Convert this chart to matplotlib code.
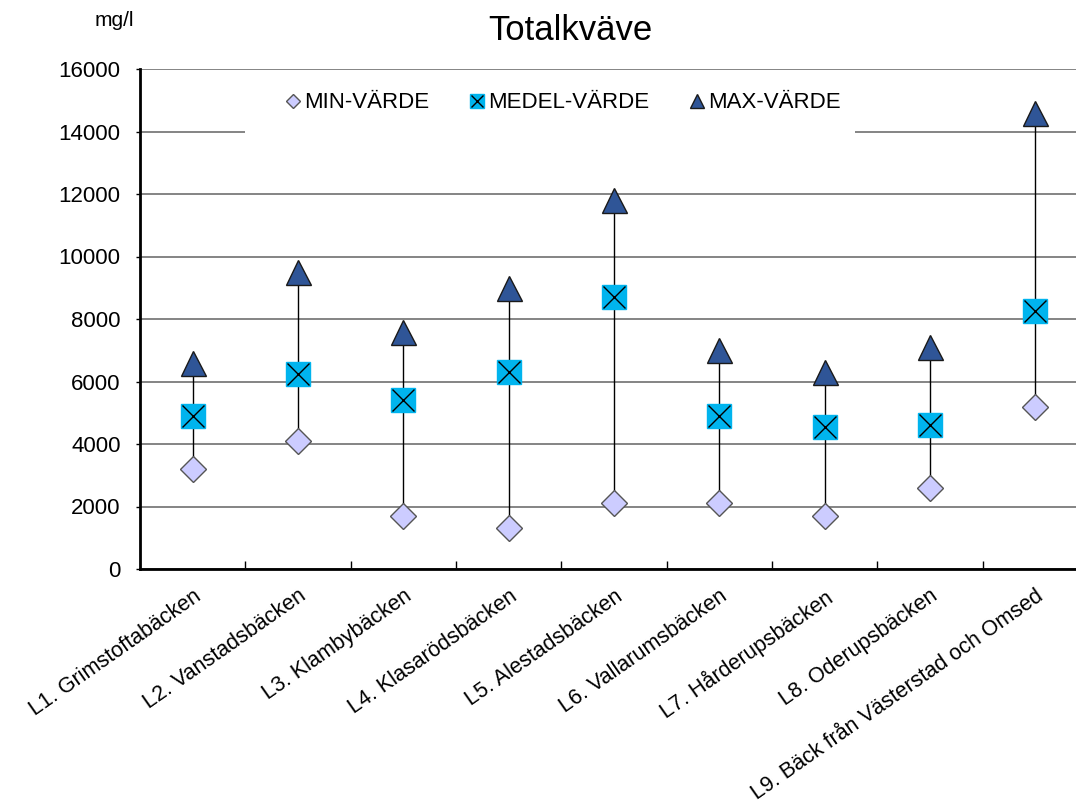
import matplotlib.pyplot as plt
from matplotlib.ticker import FixedLocator
from matplotlib.patches import Rectangle

plt.rcParams['font.family'] = ['Liberation Sans', 'DejaVu Sans']

stations = ['L1. Grimstoftabäcken', 'L2. Vanstadsbäcken', 'L3. Klambybäcken',
            'L4. Klasarödsbäcken', 'L5. Alestadsbäcken', 'L6. Vallarumsbäcken',
            'L7. Hårderupsbäcken', 'L8. Oderupsbäcken',
            'L9. Bäck från Västerstad och Omsed']
min_vals = [3200, 4100, 1700, 1300, 2100, 2100, 1700, 2600, 5200]
mean_vals = [4900, 6250, 5400, 6300, 8700, 4900, 4550, 4600, 8250]
max_vals = [6600, 9500, 7600, 9000, 11800, 7000, 6300, 7100, 14600]

W, H = 1076, 807
fig = plt.figure(figsize=(W / 100, H / 100), dpi=100)
ax = fig.add_axes([140 / W, (H - 569) / H, 948 / W, 500 / H])

x = list(range(len(stations)))

# high-low lines
ax.vlines(x, min_vals, max_vals, color='black', lw=1, zorder=3)

h_min, = ax.plot(x, min_vals, ls='none', marker='D', ms=13, mfc='#CCCCFF',
                 mec='#555555', mew=1, zorder=4)
h_sq, = ax.plot(x, mean_vals, ls='none', marker='s', ms=17, mfc='#00B4EE',
                mec='#00B4EE', zorder=4)
h_x, = ax.plot(x, mean_vals, ls='none', marker='x', ms=16, mec='black',
               mew=1, zorder=5)
h_max, = ax.plot(x, max_vals, ls='none', marker='^', ms=18, mfc='#2F5597',
                 mec='#1a1a1a', mew=1, zorder=4)

ax.set_xlim(-0.5, len(stations) - 0.5)
ax.set_ylim(0, 16000)
ax.set_yticks(range(0, 16001, 2000))
ax.yaxis.grid(True, color='#707070', lw=1.2)
ax.set_axisbelow(True)

ax.set_xticks(x)
ax.set_xticklabels(stations, rotation=35, ha='right', rotation_mode='anchor',
                   fontsize=15.5)
ax.xaxis.set_minor_locator(FixedLocator([i + 0.5 for i in x[:-1]]))
ax.tick_params(axis='x', which='major', length=0, pad=12)
ax.tick_params(axis='x', which='minor', direction='in', length=6, width=1)
ax.tick_params(axis='y', labelsize=16, length=3, width=1, pad=11)

for s in ['top', 'right']:
    ax.spines[s].set_visible(False)
for s in ['left', 'bottom']:
    ax.spines[s].set_linewidth(2)

# white legend area hiding the grid line behind it
ax.add_patch(Rectangle((245, H - 137), 610, 57, transform=None,
                       facecolor='white', edgecolor='none', zorder=2))

fig.legend([h_min, (h_sq, h_x), h_max],
           ['MIN-VÄRDE', 'MEDEL-VÄRDE', 'MAX-VÄRDE'],
           loc='center left', bbox_to_anchor=(286 / W, 1 - 103 / H), ncol=3,
           fontsize=16, frameon=False, borderpad=0, borderaxespad=0,
           handlelength=0.6, handletextpad=0.2, columnspacing=1.85,
           markerscale=0.58)

fig.text(570 / W, 1 - 30 / H, 'Totalkväve', ha='center', va='center', fontsize=25)
fig.text(114 / W, 1 - 21 / H, 'mg/l', ha='center', va='center', fontsize=15)

fig.savefig('out.png', dpi=100)
